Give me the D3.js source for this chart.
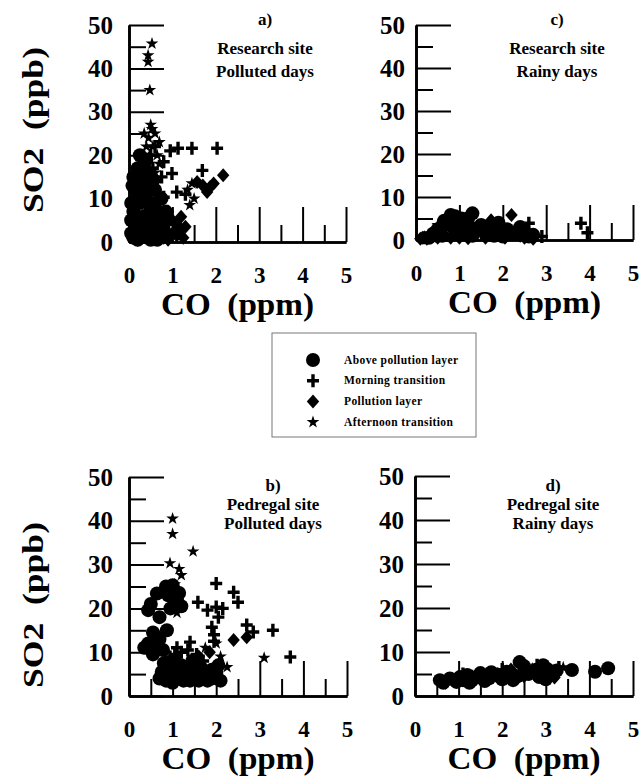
<!DOCTYPE html>
<html>
<head>
<meta charset="utf-8">
<script src="https://cdn.jsdelivr.net/npm/d3@7"></script>
<style>
  html, body { margin: 0; padding: 0; background: #fff; }
  svg { display: block; }
  text { font-family: "Liberation Serif", "Times New Roman", Times, serif; font-weight: bold; fill: #000; }
</style>
</head>
<body>
<div id="chart"></div>
<script>
// CO (ppm) vs SO2 (ppb), four panels, four flight phases

const coTicks  = [0, 1, 2, 3, 4, 5];
const coMinor  = [0.5, 1.5, 2.5, 3.5, 4.5];
const so2Ticks = [0, 10, 20, 30, 40, 50];
const so2Minor = [5, 15, 25, 35, 45];

const legendLabels = ['Above pollution layer', 'Morning transition', 'Pollution layer', 'Afternoon transition'];

// a) research site, polluted days   [co, so2]
const a_above = [[0.1,1],[0.15,3],[0.2,5],[0.1,7],[0.25,9],[0.2,11],[0.3,2],[0.35,6],[0.4,10],[0.45,4],
                 [0.5,8],[0.55,2],[0.6,12],[0.2,17],[0.4,19],[0.56,14.3],[0.3,14],[0.15,12],[0.65,5],[0.7,1.5],[0.8,3],
                 [0.05,2],[0.05,5],[0.05,9],[0.08,13],[0.1,15],[0.25,13],[0.3,16],[0.35,18],[0.25,20],[0.45,16],
                 [0.5,12],[0.6,9],[0.7,6],[0.75,10],[0.85,7],[0.35,3],[0.5,0.5],[0.2,0.5],[0.65,0.5]];
const a_morning = [[0.95,21],[1.13,21.6],[1.45,21.6],[2.03,21.6],[0.99,15.8],[1.69,16.5],[0.8,18.5],[0.8,10.3],
                   [1.1,11.5],[1.3,11],[0.6,22],[0.5,20],[0.3,13],[0.7,8],[0.9,4],[0.6,14],[0.75,15],[0.55,17]];
const a_pollution = [[2.17,15.4],[1.87,12.7],[1.8,11.5],[1.57,13.8],[1.7,13],[1.95,13.5],[1.2,5.8],[1.1,4],[0.9,7],
                     [1.0,2],[0.6,3],[0.4,1],[0.8,1],[1.3,3.5],[0.2,0.5],[0.5,6],[0.9,0.5],[1.1,1.5],[1.2,3],
                     [1.0,5],[0.7,4],[0.85,5.5],[1.25,1],[0.6,7.5]];
const a_afternoon = [[0.53,45.7],[0.44,43],[0.44,41.5],[0.48,35],[0.53,26],[0.45,24],[0.6,25],[0.7,23],[0.4,22],
                     [1.4,8.5],[1.45,13.5],[1.35,12],[1.5,10],[0.3,18],[0.2,10],[0.6,16],[0.55,22],[0.65,20],
                     [0.5,27],[0.35,25],[0.45,19.5],[0.7,18]];

// c) research site, rainy days
const c_above = [[0.8,5.8],[1.3,6.2],[0.7,4.5],[0.6,3],[1.0,4],[1.1,2.5],[0.9,1.5],[1.5,3.5],[2.3,1.6],[2.7,1.2],
                 [2.5,2],[0.4,1.5],[1.2,5],[1.8,1],[0.5,2.5],[0.65,4.5],[0.9,5.5],[1.05,5],[1.15,4],[0.85,3],
                 [1.25,3],[1.4,2.5],[1.6,1.5],[2.0,0.8],[2.2,1.5],[2.6,0.8],[0.3,0.5],[0.6,1],[1.3,1],[1.7,3],
                 [1.9,4],[2.1,2.5],[2.4,3]];
const c_morning = [[2.6,3.9],[3.8,3.9],[3.95,1.7],[1.6,3],[0.2,0.5],[1.4,1.5],[2.9,0.8]];
const c_pollution = [[2.2,5.8],[1.73,4.6],[2.0,3],[1.9,1.5],[2.4,1],[1.5,2],[0.5,0.5],[0.3,1],[0.1,0.3],[1.0,0.5],
                     [0.15,0.5],[0.25,0.3],[0.45,1],[0.8,0.5],[1.2,0.4],[1.6,0.5],[2.05,0.5],[2.5,0.5],[2.7,0.3]];
const c_afternoon = [[0.2,0.8],[0.4,2],[0.5,3.5],[1.75,2.5],[1.1,0.8],[0.7,1]];

// b) pedregal site, polluted days
const b_above = [[0.64,23.4],[0.44,19.6],[1.0,25.3],[1.1,21.9],[1.2,20.5],[0.9,23],[0.64,13.4],[0.87,15],[0.44,12],
                 [0.78,10.5],[0.55,14.5],[0.5,10.5],[0.9,5],[1.1,4],[1.3,6],[1.5,4.5],[1.7,5],[2.0,5.2],[2.05,7],
                 [0.8,7.5],[1.2,7],[1.4,3.5],[1.8,3.5],[1.0,3],[0.5,21],[0.7,18],
                 [0.6,12],[0.7,13],[0.35,11],[0.55,9.5],[0.95,20],[1.05,24],[0.85,25],[1.15,23.5],[0.7,4],
                 [0.85,3.5],[1.0,6],[1.15,5.5],[1.25,3.5],[1.35,4.5],[1.5,6],[1.6,3.5],[1.65,6.5],[1.9,4],
                 [2.1,3.5],[0.75,5.5],[1.05,8],[1.45,8],[1.9,6]];
const b_morning = [[2.0,25.7],[2.4,23.7],[2.5,21.4],[1.58,21.4],[2.0,20.3],[2.15,20],[1.8,19.6],[1.9,15.7],[1.95,14],
                   [2.7,16.2],[2.85,14.6],[3.3,15],[3.7,8.9],[1.4,12.3],[0.94,8.9],[1.2,10],[1.1,11],[1.7,8],[1.3,6],
                   [1.15,7],[0.85,6],[1.55,9.5],[1.05,9.5],[1.35,10.5],[1.95,12.5],[2.05,18]];
const b_pollution = [[2.4,12.8],[2.7,13.4],[1.6,9],[1.85,10],[1.5,7],[0.9,6],[1.2,4.5]];
const b_afternoon = [[1.0,40.5],[1.0,37],[1.47,33],[0.94,30.3],[1.2,27.6],[1.1,19],[3.1,8.7],[2.0,12],[2.25,6.6],
                     [1.75,11],[2.1,9],[1.15,29],[1.05,25.5]];

// d) pedregal site, rainy days
const d_above = [[0.57,3.6],[0.8,4],[1.03,4.3],[1.2,4.8],[1.5,5.2],[1.7,4],[1.95,4.3],[2.1,5.5],[2.4,7.7],[2.6,5],
                 [2.94,7],[3.17,4.8],[3.6,5.9],[4.13,5.5],[4.43,6.3],[2.25,3.6],[1.3,3.5],[2.8,6],[0.65,3],
                 [0.95,3.2],[1.1,3.6],[1.4,4.2],[1.6,3.4],[1.85,4.8],[2.0,3.8],[2.2,5],[2.35,4.5],[2.5,6.8],
                 [2.7,5.5],[2.85,4.3],[3.05,6],[3.25,5.8],[1.25,3],[1.75,5.4],[3.0,3.8]];
const d_morning = [[0.9,3.5],[1.1,5],[2.0,6],[2.8,7],[3.3,6.5],[1.6,4.5],[1.3,4.5],[2.4,5],[3.1,5.5]];
const d_pollution = [[0.7,3],[1.4,4],[1.9,5],[2.5,4.5],[3.0,5.5],[2.2,6],[1.2,3.8],[2.05,4.5],[2.75,4.8],[3.2,4.2]];
const d_afternoon = [[3.4,6.5],[2.7,6.2],[1.0,4],[2.0,4]];


const width = 642, height = 777;

const svg = d3.select('#chart').append('svg')
    .attr('width', width)
    .attr('height', height);

// marker shapes
const shapes = {
    above:     { d: d3.symbol(d3.symbolCircle, Math.PI * 7 * 7)(), fill: '#000', stroke: 'none', sw: 0 },
    morning:   { d: 'M-6,0H6M0,-6.5V6.5', fill: 'none', stroke: '#000', sw: 3.4 },
    pollution: { d: 'M0,-7L6.2,0L0,7L-6.2,0Z', fill: '#000', stroke: 'none', sw: 0 },
    afternoon: { d: d3.symbol(d3.symbolStar, 50)(), fill: '#000', stroke: 'none', sw: 0 }
};
const order = ['above', 'morning', 'pollution', 'afternoon'];

const panels = [
    { x: [129, 346], y: [242, 25], pad: 16, series: { above: a_above, morning: a_morning, pollution: a_pollution, afternoon: a_afternoon },
      note: ['a)', 'Research site', 'Polluted days'], nx: 265, ny: [25, 54, 77] },
    { x: [416, 633], y: [240, 25], pad: 11, series: { above: c_above, morning: c_morning, pollution: c_pollution, afternoon: c_afternoon },
      note: ['c)', 'Research site', 'Rainy days'], nx: 557, ny: [25, 54, 77] },
    { x: [129, 347], y: [696, 477], pad: 16, series: { above: b_above, morning: b_morning, pollution: b_pollution, afternoon: b_afternoon },
      note: ['b)', 'Pedregal site', 'Polluted days'], nx: 273, ny: [491, 510, 529] },
    { x: [415, 633], y: [696, 476], pad: 11, series: { above: d_above, morning: d_morning, pollution: d_pollution, afternoon: d_afternoon },
      note: ['d)', 'Pedregal site', 'Rainy days'], nx: 553, ny: [491, 510, 529] }
];

function styleAxis(g, size) {
    g.attr('font-family', null).attr('font-size', null);
    g.selectAll('.domain').attr('stroke', '#000').attr('stroke-width', 2.6);
    g.selectAll('.tick line').attr('stroke', '#000').attr('stroke-width', 2);
    g.selectAll('.tick text').style('font-size', size + 'px');
}

const fmt = d3.format('d');

panels.forEach(p => {
    const x = d3.scaleLinear().domain([0, 5]).range(p.x);
    const y = d3.scaleLinear().domain([0, 50]).range(p.y);
    const g = svg.append('g');

    // y axis: long ticks on the tens, short ticks on the fives, all pointing inward
    g.append('g')
        .attr('transform', `translate(${p.x[0]},0)`)
        .call(d3.axisLeft(y).tickValues(so2Ticks).tickFormat(fmt).tickSizeInner(-35).tickSizeOuter(0).tickPadding(p.pad))
        .call(a => styleAxis(a, 25));
    g.append('g')
        .attr('transform', `translate(${p.x[0]},0)`)
        .call(d3.axisLeft(y).tickValues(so2Minor).tickSizeInner(-17).tickSizeOuter(0).tickFormat(''))
        .call(a => styleAxis(a, 25));

    // x axis
    g.append('g')
        .attr('transform', `translate(0,${p.y[0]})`)
        .call(d3.axisBottom(x).tickValues(coTicks).tickFormat(fmt).tickSizeInner(-35).tickSizeOuter(0).tickPadding(25))
        .call(a => styleAxis(a, 23));
    g.append('g')
        .attr('transform', `translate(0,${p.y[0]})`)
        .call(d3.axisBottom(x).tickValues(coMinor).tickSizeInner(-17).tickSizeOuter(0).tickFormat(''))
        .call(a => styleAxis(a, 23));

    // points
    order.forEach(k => {
        const s = shapes[k];
        g.append('g').selectAll('path')
            .data(p.series[k])
            .join('path')
            .attr('transform', d => `translate(${x(d[0])},${y(d[1])})`)
            .attr('d', s.d)
            .attr('fill', s.fill)
            .attr('stroke', s.stroke)
            .attr('stroke-width', s.sw);
    });

    // x title
    g.append('text')
        .attr('x', (p.x[0] + p.x[1]) / 2)
        .attr('y', p.y[0] + 73)
        .attr('text-anchor', 'middle')
        .attr('textLength', 153)
        .attr('lengthAdjust', 'spacingAndGlyphs')
        .style('font-size', '31px')
        .style('white-space', 'pre')
        .text('CO  (ppm)');

    // panel note
    g.selectAll('text.note')
        .data(p.note)
        .join('text')
        .attr('class', 'note')
        .attr('x', p.nx)
        .attr('y', (d, i) => p.ny[i])
        .attr('text-anchor', 'middle')
        .style('font-size', '17px')
        .text(d => d);
});

// y titles
[130, 605].forEach(cy => {
    svg.append('text')
        .attr('transform', `translate(43,${cy}) rotate(-90)`)
        .attr('text-anchor', 'middle')
        .attr('textLength', 166)
        .attr('lengthAdjust', 'spacingAndGlyphs')
        .style('font-size', '30px')
        .style('white-space', 'pre')
        .text('SO2  (ppb)');
});

// legend
const legend = svg.append('g');
legend.append('rect')
    .attr('x', 272).attr('y', 333)
    .attr('width', 204).attr('height', 104)
    .attr('fill', 'none')
    .attr('stroke', '#777')
    .attr('stroke-width', 1);

const items = legend.selectAll('g.item')
    .data(order)
    .join('g')
    .attr('class', 'item')
    .attr('transform', (d, i) => `translate(313,${360 + i * 20.7})`);

items.append('path')
    .attr('d', d => shapes[d].d)
    .attr('fill', d => shapes[d].fill)
    .attr('stroke', d => shapes[d].stroke)
    .attr('stroke-width', d => shapes[d].sw);

items.append('text')
    .attr('x', 31)
    .attr('dy', '0.33em')
    .style('font-size', '11.5px')
    .style('letter-spacing', '0.4px')
    .text((d, i) => legendLabels[i]);
</script>
</body>
</html>
